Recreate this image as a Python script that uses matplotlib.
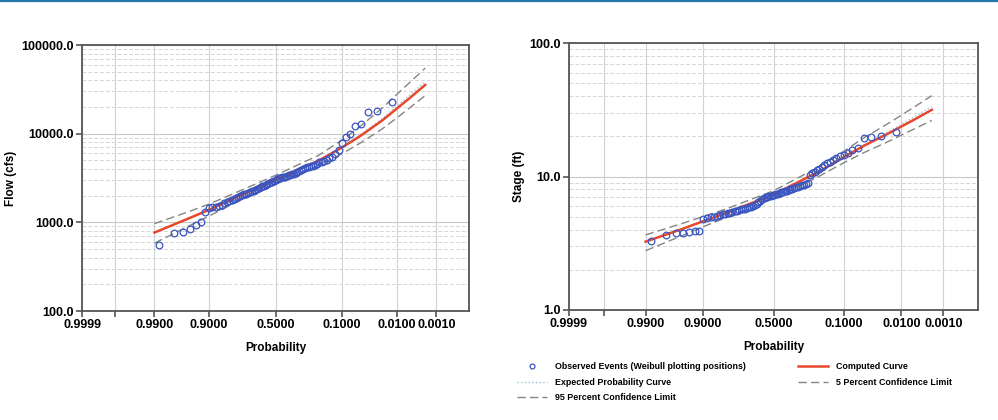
import statistics
import numpy as np
import matplotlib
matplotlib.use('Agg')
import matplotlib.pyplot as plt
from matplotlib.lines import Line2D
from matplotlib.ticker import FixedLocator, FixedFormatter, LogLocator, NullFormatter

plt.rcParams['font.family'] = ['Liberation Sans', 'DejaVu Sans']
plt.rcParams['font.weight'] = 'bold'

# exceedance probabilities for the fitted curves
CURVE_PROBS = [0.99, 0.95, 0.9, 0.8, 0.5, 0.2, 0.1, 0.05, 0.02, 0.01, 0.005, 0.002]

# ---- flow (cfs) ----
FLOW_COMPUTED = [767, 1122, 1380, 1820, 3020, 5010, 7000, 9550, 14130, 19050, 25120, 35480]
FLOW_EXPECTED = [767, 1122, 1380, 1820, 3020, 5050, 7100, 9820, 14790, 20280, 27100, 38900]
FLOW_CL05 = [966, 1334, 1603, 2065, 3390, 5750, 8510, 12300, 19500, 27540, 37580, 54950]
FLOW_CL95 = [582, 923, 1175, 1585, 2690, 4420, 5960, 7940, 11350, 14960, 19500, 26920]
FLOW_OBS = [22750, 17900, 17580, 12740, 12190, 10000, 9120, 7940, 6460, 5890,
            5500, 5250, 5010, 4900, 4790, 4730, 4570, 4470, 4370, 4315,
            4220, 4170, 4070, 3980, 3890, 3800, 3715, 3630, 3550, 3510,
            3430, 3390, 3310, 3270, 3240, 3230, 3200, 3160, 3090, 2985,
            2950, 2880, 2820, 2750, 2690, 2630, 2570, 2540, 2510, 2455,
            2370, 2320, 2265, 2240, 2190, 2140, 2090, 2065, 2040, 1995,
            1950, 1885, 1840, 1780, 1740, 1700, 1640, 1585, 1515, 1480,
            1470, 1445, 1320, 1000, 935, 850, 775, 750, 550]

# ---- stage (ft) ----
STAGE_COMPUTED = [3.25, 4.07, 4.62, 5.37, 7.33, 10.96, 13.96, 17.0, 20.65, 23.7, 26.9, 31.6]
STAGE_EXPECTED = [3.25, 4.07, 4.62, 5.37, 7.33, 11.0, 14.1, 17.3, 21.2, 24.6, 28.2, 33.5]
STAGE_CL05 = [3.65, 4.47, 5.01, 5.75, 7.82, 11.9, 15.5, 19.5, 24.5, 28.8, 33.5, 40.3]
STAGE_CL95 = [2.78, 3.63, 4.20, 4.95, 6.84, 10.1, 12.7, 15.1, 18.0, 20.4, 22.9, 26.3]
STAGE_OBS = [21.4, 20.1, 19.6, 19.3, 16.4, 15.7, 15.1, 14.6, 14.3, 13.8,
             13.3, 12.9, 12.6, 12.2, 11.7, 11.35, 11.1, 10.8, 10.6, 10.3,
             8.9, 8.8, 8.7, 8.6, 8.5, 8.4, 8.3, 8.2, 8.1, 8.0,
             7.95, 7.85, 7.75, 7.7, 7.6, 7.5, 7.4, 7.38, 7.3, 7.25,
             7.2, 7.13, 7.08, 7.0, 6.9, 6.8, 6.6, 6.4, 6.2, 6.1,
             6.0, 5.95, 5.9, 5.8, 5.75, 5.7, 5.68, 5.62, 5.56, 5.5,
             5.43, 5.37, 5.3, 5.25, 5.2, 5.15, 5.07, 5.0, 4.95, 4.9,
             4.84, 3.94, 3.89, 3.85, 3.8, 3.78, 3.67, 3.27]

PROB_TICKS = [0.9999, 0.999, 0.99, 0.9, 0.5, 0.1, 0.01, 0.001]
PROB_LABELS = ['0.9999', '', '0.9900', '0.9000', '0.5000', '0.1000', '0.0100', '0.0010']

ND = statistics.NormalDist()


def to_z(probs):
    return np.array([ND.inv_cdf(1 - p) for p in probs])


def weibull(n):
    return np.arange(1, n + 1) / (n + 1)


def panel(ax, obs, comp, expd, cl05, cl95, ylim, ylabel, ylab_x):
    zc = to_z(CURVE_PROBS)
    ax.plot(zc, cl05, color='#858585', lw=1.0, dashes=(6, 3), zorder=3)
    ax.plot(zc, cl95, color='#858585', lw=1.0, dashes=(6, 3), zorder=3)
    ax.plot(zc, expd, color='#9cc6dc', lw=1.0, ls=':', zorder=3)
    ax.plot(zc, comp, color='#e8482b', lw=1.8, zorder=4)
    ax.plot(to_z(weibull(len(obs))), obs, 'o', mfc='none', mec='#3a55c0',
            ms=4.8, mew=0.9, zorder=5)

    ax.set_yscale('log')
    ax.set_ylim(*ylim)
    ax.set_xlim(to_z([0.9999])[0], to_z([0.0001])[0])

    ax.xaxis.set_major_locator(FixedLocator(to_z(PROB_TICKS)))
    ax.xaxis.set_major_formatter(FixedFormatter(PROB_LABELS))
    ax.yaxis.set_major_locator(LogLocator(base=10))
    ax.yaxis.set_major_formatter(plt.FuncFormatter(lambda v, _: f'{v:.1f}'))
    ax.yaxis.set_minor_locator(LogLocator(base=10, subs=range(2, 10)))
    ax.yaxis.set_minor_formatter(NullFormatter())

    ax.grid(axis='x', which='major', color='#ccd4db', lw=0.8)
    ax.grid(axis='y', which='major', color='#c8c8c8', lw=0.8)
    ax.grid(axis='y', which='minor', color='#d6d6d6', lw=0.7, ls=(0, (4, 2)))
    ax.set_axisbelow(True)

    ax.tick_params(axis='both', which='major', length=4, width=1.2,
                   color='#555555', labelsize=9, pad=2)
    ax.tick_params(axis='y', which='minor', length=0)
    for s in ax.spines.values():
        s.set_color('#555555')
        s.set_linewidth(1.3)

    ax.set_xlabel('Probability', fontsize=8.5, fontweight='bold')
    ax.xaxis.set_label_coords(0.5, -0.115)
    ax.set_ylabel(ylabel, fontsize=8.5, fontweight='bold')
    ax.yaxis.set_label_coords(ylab_x, 0.5)


fig = plt.figure(figsize=(9.98, 4.20), dpi=100)
ax1 = fig.add_axes([82 / 998, 1 - 311 / 420, 387 / 998, 266 / 420])
ax2 = fig.add_axes([569 / 998, 1 - 310 / 420, 409 / 998, 267 / 420])

panel(ax1, FLOW_OBS, FLOW_COMPUTED, FLOW_EXPECTED, FLOW_CL05, FLOW_CL95,
      (100, 100000), 'Flow (cfs)', -0.168)
panel(ax2, STAGE_OBS, STAGE_COMPUTED, STAGE_EXPECTED, STAGE_CL05, STAGE_CL95,
      (1, 100), 'Stage (ft)', -0.108)

# thin blue rule at the top of the page
fig.add_artist(Line2D([0, 1], [0.997, 0.997], transform=fig.transFigure,
                      color='#2a77aa', lw=1.6))

handles = [
    Line2D([], [], ls='none', marker='o', mfc='none', mec='#3a55c0', ms=3.5, mew=0.9),
    Line2D([], [], color='#9cc6dc', lw=1.0, ls=':'),
    Line2D([], [], color='#858585', lw=1.0, dashes=(6, 3)),
    Line2D([], [], color='#e8482b', lw=1.8),
    Line2D([], [], color='#858585', lw=1.0, dashes=(6, 3)),
]
labels = ['Observed Events (Weibull plotting positions)', 'Expected Probability Curve',
          '95 Percent Confidence Limit', 'Computed Curve', '5 Percent Confidence Limit']
fig.legend(handles, labels, loc='upper left', bbox_to_anchor=(517 / 998, 1 - 362 / 420),
           ncol=2, frameon=False, borderpad=0, borderaxespad=0,
           prop={'size': 6.4, 'weight': 'bold'}, handlelength=3.4,
           handletextpad=0.9, labelspacing=0.75, columnspacing=5.8)

fig.savefig('out.png', dpi=100)
